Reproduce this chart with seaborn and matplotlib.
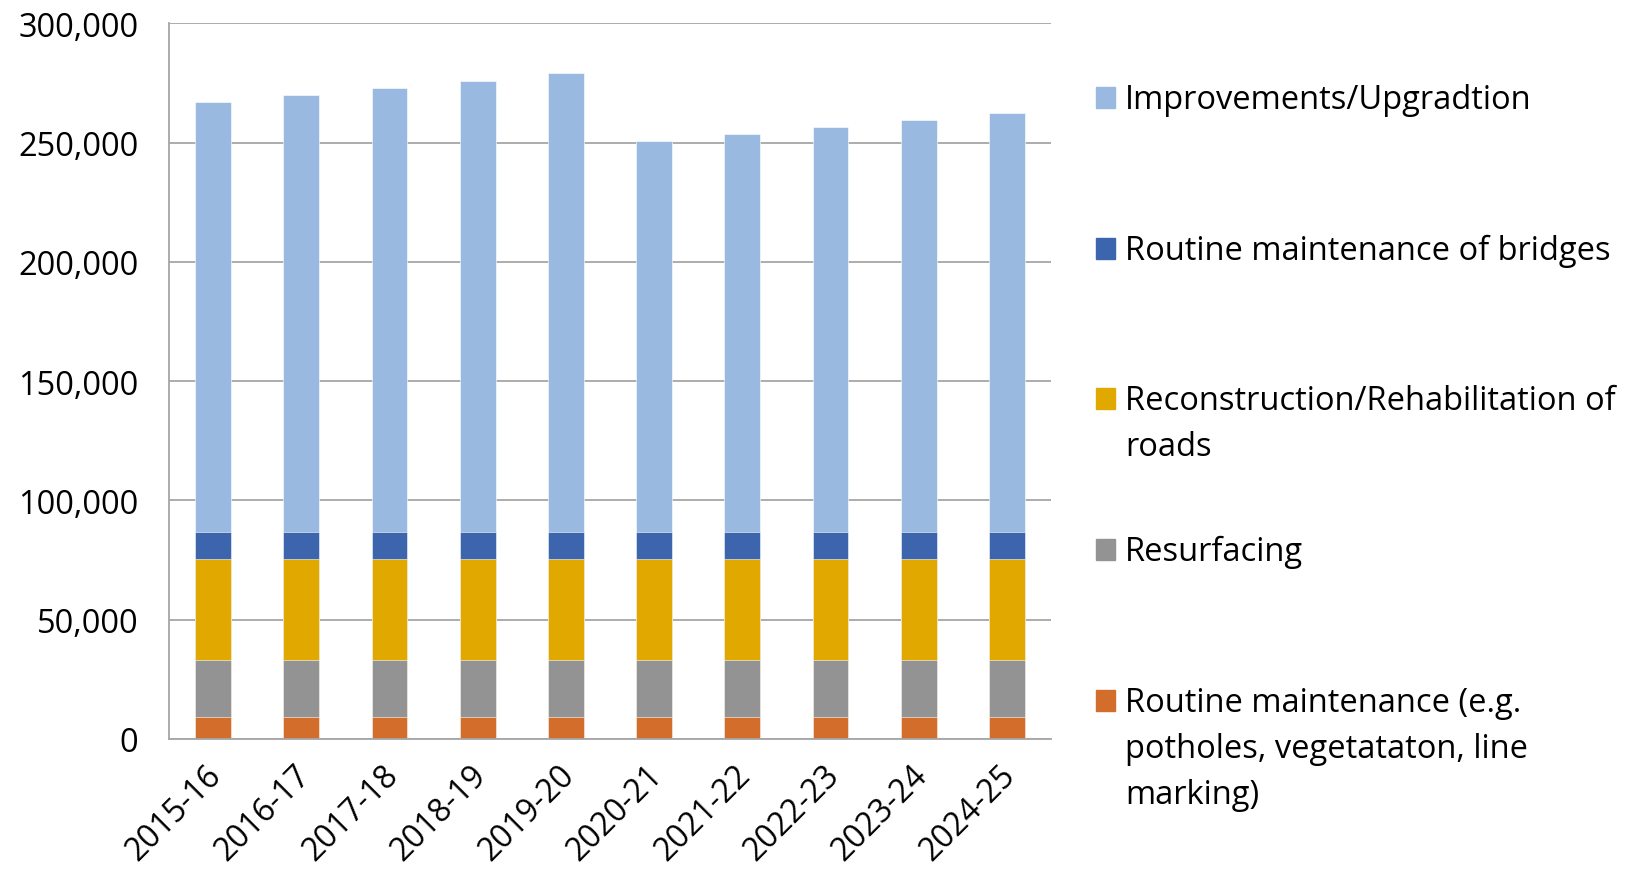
import pandas as pd
import seaborn as sns
import matplotlib.pyplot as plt
from matplotlib.patches import Rectangle
from matplotlib.ticker import FuncFormatter, MultipleLocator
from matplotlib.transforms import ScaledTranslation
import numpy as np

# data
years = ['2015-16', '2016-17', '2017-18', '2018-19', '2019-20',
         '2020-21', '2021-22', '2022-23', '2023-24', '2024-25']
routine = [9400] * 10
resurfacing = [23800] * 10
reconstruction = [42400] * 10
bridges = [11200] * 10
improvements = [180200, 183200, 186200, 189200, 192200,
                163700, 166700, 169700, 172700, 175700]

series_names = ['Routine maintenance (e.g.\npotholes, vegetataton, line\nmarking)',
                'Resurfacing',
                'Reconstruction/Rehabilitation of\nroads',
                'Routine maintenance of bridges',
                'Improvements/Upgradtion']
colors = ['#D36D2B', '#939393', '#E1A900', '#3C65AE', '#99B9E0']

df = pd.DataFrame({'year': years, 'routine': routine, 'resurfacing': resurfacing,
                   'reconstruction': reconstruction, 'bridges': bridges,
                   'improvements': improvements})
cols = ['routine', 'resurfacing', 'reconstruction', 'bridges', 'improvements']
cum = df[cols].cumsum(axis=1)

sns.set_style('white')
plt.rcParams['font.family'] = ['Open Sans', 'DejaVu Sans']
plt.rcParams['text.color'] = 'black'
plt.rcParams['xtick.color'] = 'black'
plt.rcParams['ytick.color'] = 'black'

fig = plt.figure(figsize=(16.41, 8.78), dpi=100)
ax = fig.add_axes([0.103, 0.1572, 0.5375, 0.815])

# stack by drawing cumulative totals from the top layer down
for col, c in zip(cols[::-1], colors[::-1]):
    sns.barplot(x=df['year'], y=cum[col], color=c, width=0.405, errorbar=None,
                saturation=1, edgecolor='white', linewidth=0.4, ax=ax)

ax.set_ylim(0, 300000)
ax.set_xlim(-0.5, len(years) - 0.5)
ax.yaxis.set_major_locator(MultipleLocator(50000))
ax.yaxis.set_major_formatter(FuncFormatter(lambda v, p: f'{int(v):,}'))
ax.grid(axis='y', color='#A6A6A6', linewidth=1.3)
ax.set_axisbelow(True)
ax.set_xlabel('')
ax.set_ylabel('')

for s in ['top', 'right']:
    ax.spines[s].set_visible(False)
for s in ['left', 'bottom']:
    ax.spines[s].set_color('#A6A6A6')
    ax.spines[s].set_linewidth(1.3)

# tick marks between categories, Excel style
ax.set_xticks(np.arange(-0.5, len(years)), minor=True)
ax.tick_params(axis='x', which='minor', length=11, color='#A6A6A6', width=1.3)
ax.tick_params(axis='x', which='major', length=0, pad=14)
ax.tick_params(axis='y', length=12, color='#A6A6A6', width=1.3, pad=10)
ax.set_xticks(range(len(years)))
ax.set_xticklabels(years, rotation=45, ha='right', rotation_mode='anchor',
                   fontsize=23)
shift = ScaledTranslation(-8 / 100, 0, fig.dpi_scale_trans)
for t in ax.get_xticklabels():
    t.set_transform(t.get_transform() + shift)
for t in ax.get_yticklabels():
    t.set_fontsize(23.5)

# legend entries top-aligned in equal slots, one text per line
for i, (name, c) in enumerate(zip(series_names[::-1], colors[::-1])):
    base = 109 + i * 150.7
    fig.add_artist(Rectangle((1096 / 1641, 1 - base / 878), 19 / 1641, 21 / 878,
                             color=c, transform=fig.transFigure))
    for j, line in enumerate(name.split('\n')):
        fig.text(1125 / 1641, 1 - (base + j * 46) / 878, line, fontsize=23.5,
                 va='baseline', ha='left')

fig.savefig('out.png', dpi=100)
